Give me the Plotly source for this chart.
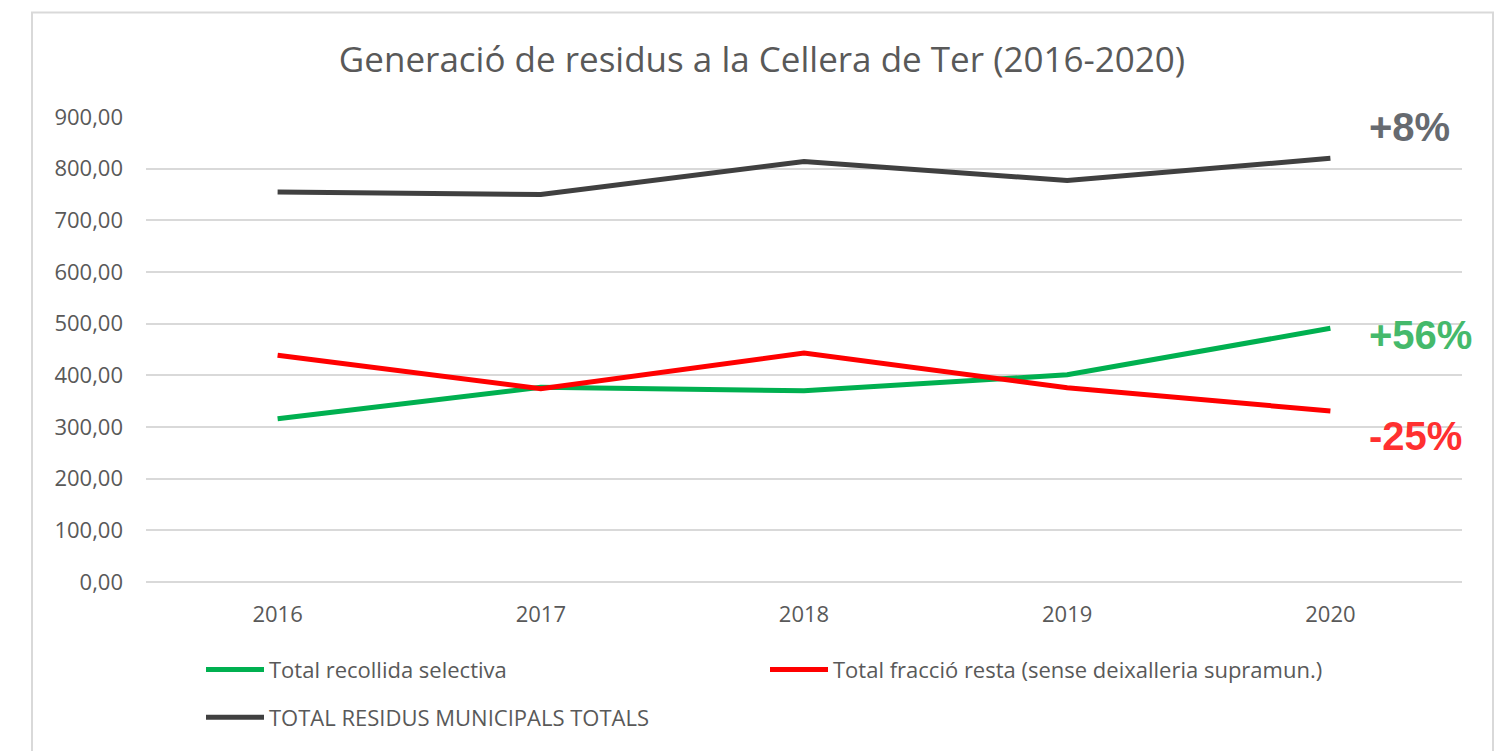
import plotly.graph_objects as go

years = ["2016", "2017", "2018", "2019", "2020"]
selectiva = [316, 377, 370, 401, 491]
resta = [439, 374, 443, 376, 331]
total = [755, 750, 814, 777, 820]

names = ["Total recollida selectiva",
         "Total fracció resta (sense deixalleria supramun.)",
         "TOTAL RESIDUS MUNICIPALS TOTALS"]
title_text = "Generació de residus a la Cellera de Ter (2016-2020)"
ann_labels = ["+8%", "+56%", "-25%"]
ann_values = [881, 478, 283]

OFF = 8  # page body margin
W, H = 1511 - OFF, 751 - OFF
# plot area in screen pixels
SL, SR, ST, SB = 146, 1462, 117, 584
L, R, T, B = SL - OFF, SR - OFF, ST - OFF, SB - OFF

def px_x(p):
    return (p - SL) / (SR - SL)

def px_y(p):
    return (SB - p) / (SB - ST)

fig = go.Figure()
fig.add_trace(go.Scatter(x=years, y=selectiva, mode="lines", name=names[0],
                         line=dict(color="#00b050", width=5), legend="legend"))
fig.add_trace(go.Scatter(x=years, y=resta, mode="lines", name=names[1],
                         line=dict(color="#ff0000", width=5), legend="legend"))
fig.add_trace(go.Scatter(x=years, y=total, mode="lines", name=names[2],
                         line=dict(color="#404040", width=5), legend="legend2"))

ann_colors = ["#666a70", "#45b96b", "#ff3030"]
for lab, v, c in zip(ann_labels, ann_values, ann_colors):
    fig.add_annotation(x=4.14, y=v, xref="x", yref="y", text="<b>%s</b>" % lab,
                       showarrow=False, xanchor="left", yanchor="middle",
                       font=dict(family="Liberation Sans, Arial", size=40, color=c))

fig.add_shape(type="rect", xref="paper", yref="paper",
              x0=px_x(32), x1=px_x(1493), y0=px_y(770), y1=px_y(12),
              line=dict(color="#d9d9d9", width=2), fillcolor="rgba(0,0,0,0)", layer="below")

legend_font = dict(family="Open Sans", size=22, color="#595959")

fig.update_layout(
    width=W, height=H,
    margin=dict(l=L, r=W - R, t=T, b=H - B, pad=0),
    paper_bgcolor="white", plot_bgcolor="white",
    separators=", ",
    title=dict(text=title_text, xref="container", yref="container",
               x=(762 - OFF) / W, xanchor="center", y=1 - (60 - OFF) / H, yanchor="middle",
               font=dict(family="Open Sans", size=35, color="#595959")),
    xaxis=dict(type="category", range=[-0.5, 4.5], showgrid=False, zeroline=False,
               showline=False, ticks="outside", ticklen=13, tickcolor="rgba(0,0,0,0)",
               tickfont=dict(family="Open Sans", size=22, color="#595959")),
    yaxis=dict(range=[0, 900], dtick=100, tickformat=".2f", showgrid=True,
               gridcolor="#d9d9d9", gridwidth=1.5, zeroline=True, zerolinecolor="#d9d9d9",
               zerolinewidth=1.5, showline=False, ticklabelstandoff=22,
               tickfont=dict(family="Open Sans", size=22, color="#595959")),
    legend=dict(orientation="h", x=px_x(201), xanchor="left", y=px_y(672), yanchor="middle",
                entrywidth=491, entrywidthmode="pixels", itemwidth=58,
                bgcolor="rgba(0,0,0,0)", font=legend_font),
    legend2=dict(orientation="h", x=px_x(201), xanchor="left", y=px_y(720), yanchor="middle",
                 itemwidth=58, bgcolor="rgba(0,0,0,0)", font=legend_font),
    showlegend=True,
)

fig.write_html("out.html")
